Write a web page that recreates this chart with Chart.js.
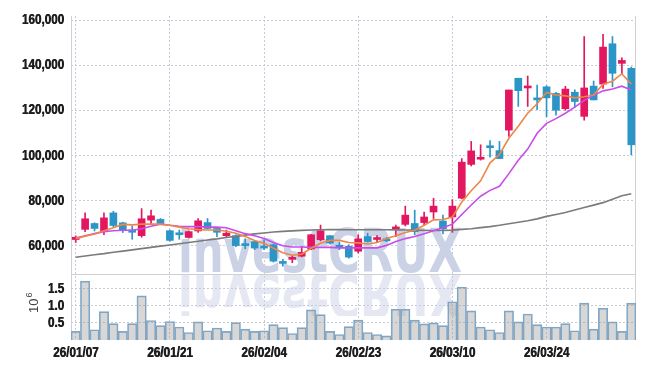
<!DOCTYPE html>
<html><head><meta charset="utf-8">
<script src="https://cdn.jsdelivr.net/npm/chart.js@4.4.1/dist/chart.umd.min.js"></script>
<style>html,body{margin:0;padding:0;background:#fff}#wrap{width:645px;height:368px;position:relative}</style>
</head><body><div id="wrap"><canvas id="c" width="645" height="368"></canvas></div>
<script>
const dates = [
 '26/01/07','26/01/08','26/01/09','26/01/12','26/01/13','26/01/14','26/01/15','26/01/16','26/01/19','26/01/20',
 '26/01/21','26/01/22','26/01/23','26/01/26','26/01/27','26/01/28','26/01/29','26/01/30','26/02/02','26/02/03',
 '26/02/04','26/02/05','26/02/06','26/02/09','26/02/10','26/02/11','26/02/12','26/02/13','26/02/19','26/02/20',
 '26/02/23','26/02/24','26/02/25','26/02/26','26/02/27','26/03/03','26/03/04','26/03/05','26/03/06','26/03/09',
 '26/03/10','26/03/11','26/03/12','26/03/13','26/03/16','26/03/17','26/03/18','26/03/19','26/03/20','26/03/23',
 '26/03/24','26/03/25','26/03/26','26/03/27','26/03/30','26/03/31','26/04/01','26/04/02','26/04/03','26/04/06'];
const openP  = [62700,67200,69800,66500,74500,70100,66900,64400,71300,71600,
 66600,65500,63600,66500,70200,67600,64400,64400,60700,61800,
 59800,60400,52700,53900,55300,58500,62600,64400,60100,59700,
 57500,64000,62700,63000,67400,69400,69800,70200,74900,70900,
 72700,81000,96000,98300,104000,102100,111200,134200,129900,125500,
 130400,127500,120700,128000,117300,130700,131600,149500,140800,138600];
const highP  = [64300,74500,70100,74500,75200,70400,68700,76400,75700,72000,
 66900,66900,66500,72000,72000,67900,66900,64800,63000,62100,
 62600,60700,53900,55600,59700,65000,69100,64400,61400,60400,
 64800,65500,64400,63600,69100,77500,75700,74900,81000,73500,
 80400,98600,106200,104700,106600,106200,129000,134200,135200,131200,
 130900,128000,130600,129100,152700,133000,153700,152700,143300,139200];
const lowP   = [61400,66200,66500,64800,68400,65800,62800,63700,69600,69400,
 62000,62800,63300,65800,67400,64000,63600,59500,58600,58200,
 58200,52700,50900,52400,55000,58200,62100,60800,58200,54400,
 56700,61500,61500,61800,64000,68700,64800,69100,72000,65200,
 65900,80700,95300,97900,99200,98600,108400,121700,121700,120300,
 117100,117800,120000,121400,115600,124600,129700,130400,136000,100300];
const closeP = [63700,71900,67600,72300,68900,66900,65900,71900,73200,69800,
 62300,64800,66200,71000,67600,65900,65500,60000,60000,58900,
 58900,53100,52100,54500,57000,64800,66600,61100,59300,54900,
 63000,61800,63300,62100,67900,73500,66200,72700,77500,67400,
 77500,97000,102000,98900,103400,98600,129000,128700,130400,124600,
 125500,120000,129400,123900,129900,124600,148000,136400,142100,104700];
const ma5 = [63100,64200,65100,66600,67900,69400,69200,69500,69600,69500,
 69000,68200,67500,67100,66900,66900,66400,65500,64000,62300,
 61000,58800,56800,55700,56200,58800,61000,62300,62300,61400,
 61200,60700,61400,63100,64400,65800,66800,69000,71400,71600,
 72700,79300,84300,88700,96700,100400,107600,112900,118700,122900,
 127900,126800,126400,125500,126000,126800,131600,132900,136200,131600];
const ma10 = [63400,64400,65300,66200,66600,66800,66800,67500,68600,69500,
 69000,68600,68400,68400,68200,68200,67900,66600,65300,64400,
 63100,61400,59900,59400,59400,59200,59200,59200,59000,59000,
 59000,59000,59000,60100,61800,63100,64000,65300,66600,67900,
 69500,73800,78000,81900,84500,86300,91900,97800,102800,109800,
 114200,116300,118700,121400,124400,126600,128600,129400,130700,129000];
const ma60 = [54850,55400,55950,56450,57050,57550,58100,58650,59200,59750,
 60300,60830,61400,61900,62500,63000,63600,64100,64650,65200,
 65600,66000,66300,66550,66750,66950,67050,67100,67100,67050,
 67050,67000,67000,67000,66980,66950,66850,66750,66700,66700,
 66850,67200,67500,67950,68400,69000,69700,70350,71000,71850,
 72950,73800,74700,75800,76900,77950,79050,80600,82100,83000];
const volume = [0.25,1.72,0.30,0.83,0.48,0.25,0.48,1.29,0.57,0.42,
 0.54,0.38,0.22,0.53,0.27,0.35,0.25,0.51,0.32,0.25,
 0.27,0.45,0.36,0.19,0.36,0.88,0.74,0.25,0.16,0.39,
 0.58,0.22,0.16,0.12,0.90,0.90,0.58,0.47,0.50,0.42,
 1.12,1.55,0.85,0.38,0.30,0.22,0.85,0.53,0.76,0.45,
 0.38,0.38,0.48,0.27,1.08,0.32,0.93,0.53,0.25,1.08];
const priceTicks = [60000,80000,100000,120000,140000,160000];
const volumeTicks = [0.5,1.0,1.5];
const labelEvery = 10;

const UP = '#E3175F', DOWN = '#2C95C8';
const candleColors = openP.map((o,i)=> closeP[i] >= o ? UP : DOWN);
const FONT = '"Liberation Sans", Arial, sans-serif';
const GRID = '#c6cad9';
const FRAME = '#cfd0d6';
const CONDENSE = 0.78;

const proto = CanvasRenderingContext2D.prototype;
const nativeFill = proto.fillText;
function condensedFill(t, x, y, mw) {
  this.save();
  this.translate(x, y);
  this.scale(CONDENSE, 1);
  nativeFill.call(this, t, 0, 0);
  nativeFill.call(this, t, 0.7, 0);
  this.restore();
}

const decor = {
  id: 'decor',
  beforeDraw(chart) {
    // condensed, heavier look for the axis labels that Chart.js draws in its scale layers
    chart.ctx.fillText = condensedFill;
  },
  beforeDatasetsDraw(chart) {
    const {ctx, chartArea: a, scales} = chart;
    ctx.fillText = nativeFill;
    const sep = scales.y.bottom;
    const txt = 'investCRUX';
    ctx.save();
    ctx.font = 'bold 60px "DejaVu Sans", "Liberation Sans", sans-serif';
    const w = ctx.measureText(txt).width;
    ctx.fillStyle = '#cbd2e6';
    ctx.save();
    ctx.translate(178, 272); ctx.scale(284 / w, 1);
    ctx.fillText(txt, 0, 0);
    ctx.restore();
    ctx.save();
    ctx.beginPath(); ctx.rect(a.left, sep, a.right - a.left, 42); ctx.clip();
    ctx.globalAlpha = 0.5;
    ctx.translate(178, 274); ctx.scale(284 / w, -1);
    ctx.fillText(txt, 0, 0);
    ctx.restore();
    ctx.strokeStyle = FRAME; ctx.lineWidth = 1;
    ctx.beginPath();
    ctx.moveTo(a.left + 0.5, a.top); ctx.lineTo(a.left + 0.5, a.bottom);
    ctx.moveTo(a.right - 0.5, a.top); ctx.lineTo(a.right - 0.5, a.bottom);
    ctx.moveTo(a.left, Math.round(sep) + 0.5); ctx.lineTo(a.right, Math.round(sep) + 0.5);
    ctx.stroke();
    ctx.restore();
  },
  afterDraw(chart) {
    const {ctx} = chart;
    ctx.save();
    ctx.fillStyle = '#444';
    ctx.translate(38, 313);
    ctx.rotate(-Math.PI / 2);
    ctx.font = '13px ' + FONT;
    ctx.textBaseline = 'alphabetic';
    ctx.fillText('10', 0, 0);
    const w = ctx.measureText('10').width;
    ctx.font = '9px ' + FONT;
    ctx.fillText('6', w + 1, -6);
    ctx.restore();
  }
};

const tickFont = {family: FONT, size: 15, weight: 'bold'};

new Chart(document.getElementById('c'), {
  type: 'bar',
  data: {
    labels: dates,
    datasets: [
      {type: 'line', data: ma5, borderColor: '#EE8648', borderWidth: 1.6, pointRadius: 0, tension: 0, yAxisID: 'y', order: 0},
      {type: 'line', data: ma10, borderColor: '#C94DEB', borderWidth: 1.6, pointRadius: 0, tension: 0, yAxisID: 'y', order: 0},
      {type: 'line', data: ma60, borderColor: '#7b7b7b', borderWidth: 1.6, pointRadius: 0, tension: 0, yAxisID: 'y', order: 0},
      {data: lowP.map((l,i)=>[l, highP[i]]), backgroundColor: candleColors, barThickness: 1, grouped: false, yAxisID: 'y', order: 2},
      {data: openP.map((o,i)=>[o, closeP[i]]), backgroundColor: candleColors, barThickness: 7, minBarLength: 2, grouped: false, yAxisID: 'y', order: 1},
      {data: volume, backgroundColor: 'rgba(150,150,150,0.38)', borderColor: '#7ea9cc', borderWidth: 1,
       barPercentage: 1, categoryPercentage: 1, grouped: false, yAxisID: 'v', order: 3}
    ]
  },
  options: {
    responsive: false, animation: false, devicePixelRatio: 1,
    layout: {padding: {top: 11, right: 9, left: 0, bottom: 0}},
    plugins: {legend: {display: false}, tooltip: {enabled: false}},
    scales: {
      x: {
        type: 'category', offset: true,
        grid: {offset: false, color: GRID, drawTicks: false, lineWidth: 1},
        border: {display: false, dash: [2, 2]},
        ticks: {autoSkip: false, maxRotation: 0, minRotation: 0, padding: 4, color: '#1e1e1e', font: tickFont,
          callback: (v, i) => (i % labelEvery === 0 ? dates[i] : null)},
        afterFit: s => { s.height = 28; }
      },
      v: {
        type: 'linear', position: 'left', stack: 'main', stackWeight: 67,
        min: 0, max: 1.93,
        afterBuildTicks: s => { s.ticks = volumeTicks.map(v => ({value: v})); },
        grid: {color: GRID, drawTicks: false},
        border: {display: false, dash: [2, 2]},
        ticks: {autoSkip: false, padding: 7, color: '#1e1e1e', font: tickFont, callback: v => v.toFixed(1)},
        afterFit: s => { s.width = 71; }
      },
      y: {
        type: 'linear', position: 'left', stack: 'main', stackWeight: 262,
        min: 47400, max: 161800,
        afterBuildTicks: s => { s.ticks = priceTicks.map(v => ({value: v})); },
        grid: {color: GRID, drawTicks: false},
        border: {display: false, dash: [2, 2]},
        ticks: {autoSkip: false, padding: 7, color: '#1e1e1e', font: tickFont, callback: v => v.toLocaleString('en-US')},
        afterFit: s => { s.width = 71; }
      }
    }
  },
  plugins: [decor]
});
</script>
</body></html>
